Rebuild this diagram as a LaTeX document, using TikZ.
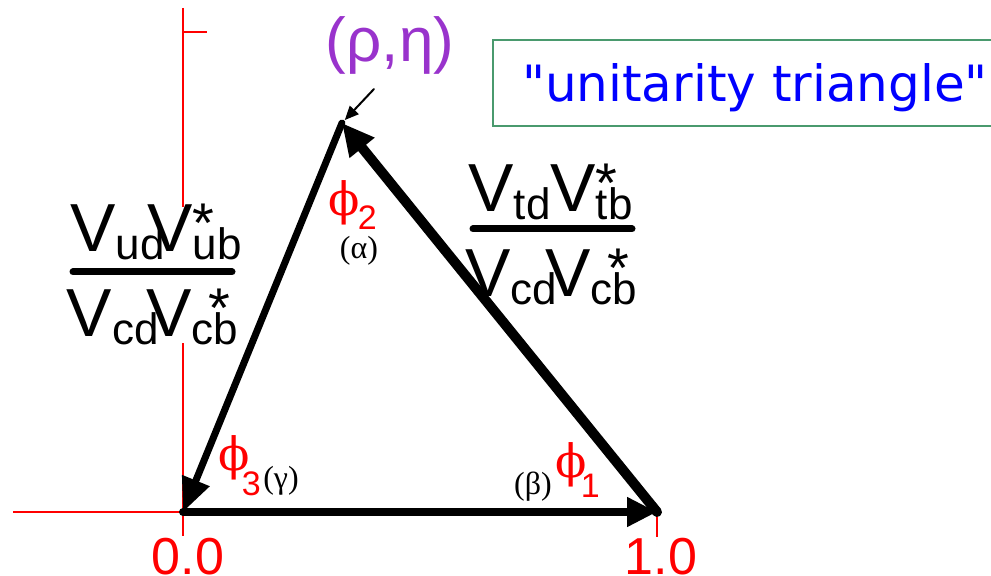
\documentclass[tikz,border=0pt]{standalone}
\usepackage{fontspec}
\usepackage{tikz}
\usetikzlibrary{arrows.meta, positioning}
\usepackage{xcolor}
\definecolor{utred}{HTML}{FF0000}
\definecolor{utpurple}{HTML}{9933CC}
\definecolor{utblue}{HTML}{0000FF}
\definecolor{utgreen}{HTML}{4A9A6E}
\newfontfamily\ckmfont{Liberation Sans}
\newfontfamily\boxfont{DejaVu Sans}
\newfontfamily\phifont{DejaVu Serif}
\newfontfamily\greekfont{Liberation Serif}
\newcommand{\ckmsub}[1]{\raisebox{-4pt}{\fontsize{22}{22}\selectfont #1}}
\newcommand{\ckmstar}[1]{\rlap{\kern#1\raisebox{4.5pt}{\fontsize{28}{28}\selectfont *}}}
\newcommand{\phiangle}[3]{{\phifont\fontsize{23}{23}\selectfont ϕ}\kern#3\raisebox{#2}{\ckmfont\fontsize{17}{17}\selectfont #1}}

\begin{document}
\begin{tikzpicture}[
    x=0.5pt, y=-0.5pt,
    redaxis/.style={draw=utred, line width=1pt},
    vec/.style={draw=black, line cap=round, -{Triangle[length=15pt, width=14pt]}},
    frac/.style={font=\ckmfont\fontsize{34}{40}\selectfont, inner sep=0pt, anchor=base},
    fracbar/.style={line width=3.5pt, line cap=round},
    phinode/.style={text=utred, inner sep=0pt, anchor=base west},
    greek/.style={font=\greekfont\fontsize{16}{16}\selectfont, inner sep=0pt},
    ticklabel/.style={text=utred, font=\ckmfont\fontsize{26}{26}\selectfont, inner sep=0pt, anchor=base}
  ]
  \useasboundingbox (0,0) rectangle (991,576);
  \clip (0,0) rectangle (991,576);

  % axes
  \draw[redaxis] (13,512) -- (657,512);
  \draw[redaxis] (183,8) -- (183,536);
  \draw[redaxis] (183,32) -- (207,32);
  \draw[redaxis] (657,512) -- (657,537);
  \node[ticklabel] (zero) at (188,575) {0.0};
  \node[ticklabel] (one) at (661,575) {1.0};

  \coordinate (origin) at (183,512);
  \coordinate (apex) at (342,123);
  \coordinate (unit) at (657,512);

  % side ratios
  \node[frac, fill=white, text height=22.5pt, text depth=10pt] (lnum) at (156,252) {V\ckmsub{ud}\kern-8.5pt V\ckmstar{0pt}\ckmsub{ub}};
  \node[frac, fill=white, text height=32.5pt, text depth=3pt] (lden) at (152.5,337) {V\ckmsub{cd}\kern-6pt V\ckmstar{8.5pt}\ckmsub{cb}};
  \draw[fracbar] (73,272) -- (232,272);
  \node[frac] (rnum) at (550.5,212) {V\ckmsub{td}V\ckmstar{0pt}\ckmsub{tb}};
  \node[frac] (rden) at (551,297) {V\ckmsub{cd}\kern-6pt V\ckmstar{8.5pt}\ckmsub{cb}};
  \draw[fracbar] (473,229) -- (632,229);

  % triangle
  \draw[vec, line width=4pt] (origin) -- (unit);
  \draw[vec, line width=5pt, -{Triangle[length=16pt, width=15pt]}] (unit) -- (apex);
  \draw[vec, line width=3.5pt, -{Triangle[length=17pt, width=14pt]}] (apex) -- (origin);

  \node[text=utpurple, font=\ckmfont\fontsize{31}{31}\selectfont, inner sep=0pt, anchor=base] (rhoeta) at (390,62) {(ρ,η)};
  \coordinate (rhotail) at (374,89);
  \draw[vec, line width=1pt, shorten >=2pt, -{Triangle[length=7pt, width=6pt]}] (rhotail) -- (apex);

  \node[draw=utgreen, line width=1pt, text=utblue, font=\boxfont\fontsize{25}{25}\selectfont, inner sep=0pt, text height=31pt, text depth=12pt, minimum width=262pt, anchor=base] (title) at (755,102) {"unitarity triangle"\hspace{7pt}};

  % angles
  \node[phinode] (phitwo) at (328,216) {\phiangle{2}{-7pt}{-1pt}};
  \node[greek] (alpha) at (359,251) {(α)};
  \node[phinode] (phithree) at (218,471) {\phiangle{3}{-12.5pt}{-4pt}};
  \node[greek] (gamma) at (281,481) {(γ)};
  \node[greek] (beta) at (533,487) {(β)};
  \node[phinode] (phione) at (555,478) {\phiangle{1}{-10pt}{-3pt}};
\end{tikzpicture}
\end{document}
